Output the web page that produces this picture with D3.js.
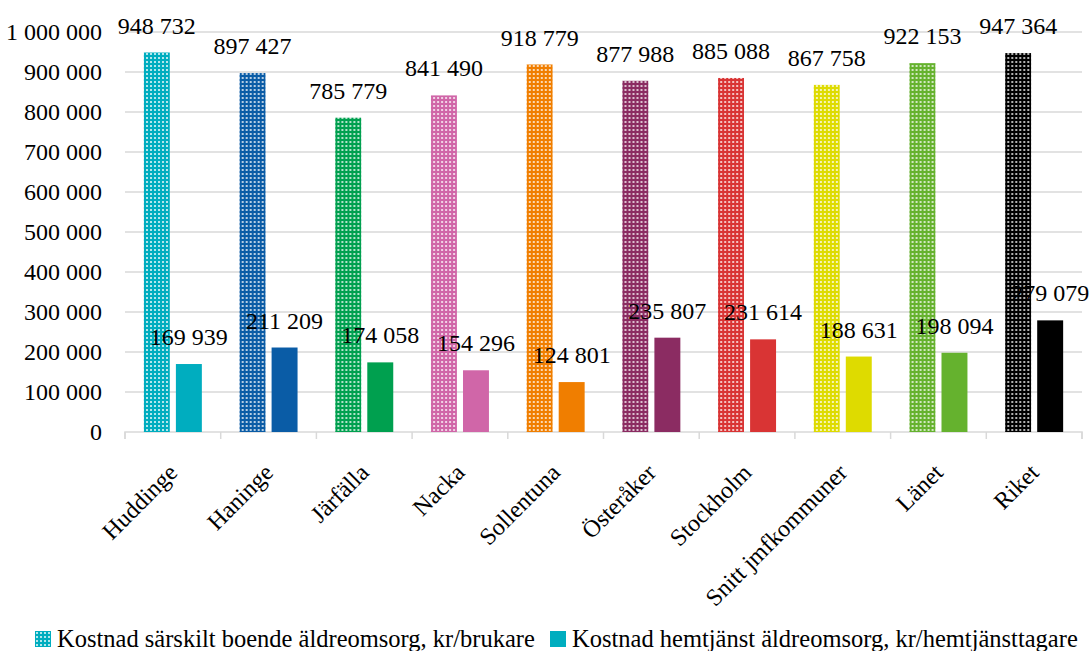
<!DOCTYPE html>
<html>
<head>
<meta charset="utf-8">
<script src="https://cdn.jsdelivr.net/npm/d3@7"></script>
<style>
  body { margin: 0; background: #fff; }
</style>
</head>
<body>
<svg id="drawing_region"></svg>
<script>
// data
const categories = ["Huddinge", "Haninge", "Järfälla", "Nacka", "Sollentuna", "Österåker", "Stockholm", "Snitt jmfkommuner", "Länet", "Riket"];
const boende = [948732, 897427, 785779, 841490, 918779, 877988, 885088, 867758, 922153, 947364];
const hemtjanst = [169939, 211209, 174058, 154296, 124801, 235807, 231614, 188631, 198094, 279079];
const colors = ["#00adbf", "#0a5ca6", "#00a04f", "#d066a8", "#f07e00", "#8b2c62", "#d93434", "#dedb00", "#65b22e", "#000000"];
const yticks = [0, 100000, 200000, 300000, 400000, 500000, 600000, 700000, 800000, 900000, 1000000];
const seriesNames = ["Kostnad särskilt boende äldreomsorg, kr/brukare", "Kostnad hemtjänst äldreomsorg, kr/hemtjänsttagare"];

const FONT = "'Liberation Serif', 'Times New Roman', 'DejaVu Serif', serif";
const FS = '24px';

const config = {
    width: 1091,
    height: 651,
    margin: {top: 32, right: 9, bottom: 219, left: 125}
};

const fmt = v => d3.format(",")(v).replace(/,/g, "\u00a0");

const svg = d3.select('#drawing_region')
    .attr('width', config.width)
    .attr('height', config.height)
    .attr('font-family', FONT);

const inner_width = config.width - config.margin.left - config.margin.right;
const inner_height = config.height - config.margin.top - config.margin.bottom;

// dotted fill patterns, one per colour
const defs = svg.append('defs');
colors.forEach((c, i) => {
    const p = defs.append('pattern')
        .attr('id', 'pat' + i)
        .attr('patternUnits', 'userSpaceOnUse')
        .attr('width', 4).attr('height', 4);
    p.append('rect').attr('width', 4).attr('height', 4).attr('fill', c);
    p.append('rect').attr('x', 1).attr('y', 1).attr('width', 2).attr('height', 2)
        .attr('fill', '#fff').attr('opacity', 0.7);
});

const chart = svg.append('g')
    .attr('transform', `translate(${config.margin.left}, ${config.margin.top})`);

const xscale = d3.scaleBand().domain(categories).range([0, inner_width]);
const bw = xscale.bandwidth();
const group = 58;
const x1 = d3.scaleBand().domain(['b', 'h'])
    .range([(bw - group) / 2, (bw + group) / 2])
    .paddingInner(0.19);
const yscale = d3.scaleLinear().domain([0, 1000000]).range([inner_height, 0]);

// grid lines
chart.append('g')
    .selectAll('line')
    .data(yticks.filter(d => d > 0))
    .join('line')
    .attr('x1', 0).attr('x2', inner_width)
    .attr('y1', d => yscale(d)).attr('y2', d => yscale(d))
    .attr('stroke', '#d9d9d9').attr('stroke-width', 1.5);

// y axis labels
const yaxis = d3.axisLeft(yscale).tickValues(yticks).tickFormat(fmt).tickSize(0).tickPadding(23);
const yaxis_group = chart.append('g').call(yaxis).attr('font-family', FONT);
yaxis_group.select('.domain').remove();
yaxis_group.selectAll('text')
    .attr('font-size', FS)
    .attr('fill', '#000');

// x axis
const xaxis_group = chart.append('g')
    .attr('transform', `translate(0, ${inner_height})`);
xaxis_group.append('path')
    .attr('fill', 'none')
    .attr('stroke', '#d9d9d9').attr('stroke-width', 1.5)
    .attr('d', `M0,7V0H${inner_width}V7`);
xaxis_group.selectAll('line.sep')
    .data(d3.range(categories.length + 1))
    .join('line')
    .attr('class', 'sep')
    .attr('x1', i => i * bw).attr('x2', i => i * bw)
    .attr('y1', 0).attr('y2', 7)
    .attr('stroke', '#d9d9d9').attr('stroke-width', 1.5);

xaxis_group.selectAll('text.cat')
    .data(categories)
    .join('text')
    .attr('class', 'cat')
    .attr('font-size', FS)
    .attr('text-anchor', 'end')
    .attr('transform', d => `translate(${xscale(d) + bw / 2 + 6}, 42) rotate(-45)`)
    .text(d => d);

// bars
const groups = chart.selectAll('g.cat')
    .data(categories)
    .join('g')
    .attr('class', 'cat')
    .attr('transform', d => `translate(${xscale(d)}, 0)`);

groups.append('rect')
    .attr('x', x1('b'))
    .attr('width', x1.bandwidth())
    .attr('y', (d, i) => yscale(boende[i]))
    .attr('height', (d, i) => inner_height - yscale(boende[i]))
    .attr('fill', (d, i) => `url(#pat${i})`);

groups.append('rect')
    .attr('x', x1('h'))
    .attr('width', x1.bandwidth())
    .attr('y', (d, i) => yscale(hemtjanst[i]))
    .attr('height', (d, i) => inner_height - yscale(hemtjanst[i]))
    .attr('fill', (d, i) => colors[i]);

// value labels
groups.append('text')
    .attr('x', x1('b') + x1.bandwidth() / 2)
    .attr('y', (d, i) => yscale(boende[i]) - 19)
    .attr('text-anchor', 'middle')
    .attr('font-size', FS)
    .text((d, i) => fmt(boende[i]));

groups.append('text')
    .attr('x', x1('h') + x1.bandwidth() / 2)
    .attr('y', (d, i) => yscale(hemtjanst[i]) - 19)
    .attr('text-anchor', 'middle')
    .attr('font-size', FS)
    .text((d, i) => fmt(hemtjanst[i]));

// legend
const legend = svg.append('g');
const legendX = [35, 550];
seriesNames.forEach((name, i) => {
    const g = legend.append('g').attr('transform', `translate(${legendX[i]}, 631)`);
    g.append('rect').attr('width', 16).attr('height', 16)
        .attr('fill', i === 0 ? 'url(#pat0)' : colors[0]);
    g.append('text')
        .attr('x', 22).attr('y', 16)
        .attr('font-size', '24.5px')
        .text(name);
});
</script>
</body>
</html>
